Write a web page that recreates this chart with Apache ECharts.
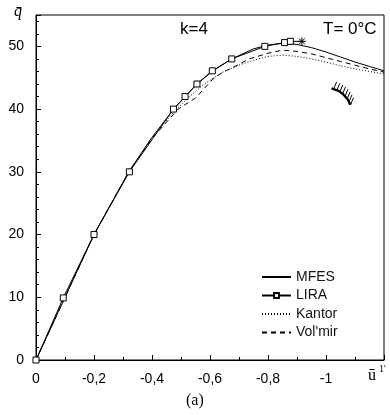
<!DOCTYPE html>
<html><head><meta charset="utf-8">
<script src="https://cdn.jsdelivr.net/npm/echarts@6/dist/echarts.min.js"></script>
<style>html,body{margin:0;padding:0;background:#fff}#c{width:390px;height:415px}</style>
</head><body><div id="c"></div>
<script>
var xTicks = [0, -0.2, -0.4, -0.6, -0.8, -1];
var mfes = [[0,0],[-0.1,10],[-0.2,20],[-0.32,30],[-0.4,35.5],[-0.475,40],[-0.515,42],[-0.555,44],[-0.61,46.1],[-0.675,48],[-0.75,49.6],[-0.8,50.2],[-0.85,50.5],[-0.9,50.3],[-0.95,49.8],[-1.0,49.1],[-1.05,48.3],[-1.1,47.5],[-1.15,46.8],[-1.2,46.1]];
var lira = [[0,0],[-0.094,9.9],[-0.2,20],[-0.322,30],[-0.474,40],[-0.514,42],[-0.555,44],[-0.608,46.1],[-0.675,48],[-0.789,50],[-0.857,50.6],[-0.877,50.8]];
var liraEnd = [-0.917,50.8];
var kantor = [[0,0],[-0.1,10],[-0.2,20],[-0.32,30],[-0.4,35.5],[-0.48,39.8],[-0.53,42],[-0.58,44],[-0.64,45.8],[-0.7,47],[-0.75,47.8],[-0.8,48.4],[-0.85,48.6],[-0.9,48.4],[-0.95,48],[-1.0,47.5],[-1.05,46.9],[-1.1,46.4],[-1.15,46],[-1.2,45.6]];
var volmir = [[0,0],[-0.1,10],[-0.2,20],[-0.32,30],[-0.4,35.3],[-0.49,40],[-0.551,41.8],[-0.61,44.8],[-0.645,45.9],[-0.69,46.9],[-0.735,48],[-0.8,48.9],[-0.85,49.4],[-0.9,49.2],[-0.95,48.8],[-1.0,48.2],[-1.05,47.6],[-1.1,47],[-1.15,46.4],[-1.2,45.9]];

var FONT = "'Liberation Sans Narrow','Liberation Sans',Arial,sans-serif";
var chart = echarts.init(document.getElementById('c'));

// decorative clamped-edge symbol
var cx = 325, cy = 115, r = 27.4, a0 = -1.33, a1 = -0.38;
var hatch = [];
for (var i = 0; i < 8; i++) {
  var a = a0 + 0.08 + i * (a1 - a0 - 0.08) / 7;
  var x1 = cx + r * Math.cos(a), y1 = cy + r * Math.sin(a);
  hatch.push({type:'line', shape:{x1:x1, y1:y1, x2:x1 + 3, y2:y1 - 7}, style:{stroke:'#000', lineWidth:1}});
}

chart.setOption({
  animation: false,
  grid: {left: 36, right: 6, top: 15, bottom: 55, show: true, borderColor: '#000', borderWidth: 1},
  xAxis: {
    type: 'value', min: -1.2, max: 0, interval: 0.2, inverse: true,
    axisLine: {lineStyle: {color: '#000'}},
    axisTick: {inside: true, length: 5, lineStyle: {color: '#000'}},
    minorTick: {show: true, splitNumber: 2, length: 3, lineStyle: {color: '#000'}},
    splitLine: {show: false},
    axisLabel: {margin: 12, color: '#000', fontFamily: FONT, fontSize: 14,
      formatter: function (v) { var q = Math.round(v*10)/10; if (xTicks.indexOf(q) < 0) return ''; return String(q).replace('.', ','); }}
  },
  yAxis: {
    type: 'value', min: 0, max: 55, interval: 10,
    axisLine: {lineStyle: {color: '#000'}},
    axisTick: {inside: true, length: 5, lineStyle: {color: '#000'}},
    minorTick: {show: true, splitNumber: 5, length: 3, lineStyle: {color: '#000'}},
    splitLine: {show: false},
    axisLabel: {margin: 12, color: '#000', fontFamily: FONT, fontSize: 14, showMaxLabel: false,
      formatter: function (v) { return v > 50 ? '' : String(v); }}
  },
  legend: {
    orient: 'vertical', left: 256, top: 265, itemWidth: 29, itemHeight: 6, itemGap: 4.5,
    textStyle: {fontFamily: FONT, fontSize: 14, color: '#111'},
    data: [
      {name: 'MFES', itemStyle: {opacity: 0}},
      {name: 'LIRA'},
      {name: 'Kantor', itemStyle: {opacity: 0}},
      {name: "Vol'mir", itemStyle: {opacity: 0}}
    ]
  },
  series: [
    {name: 'MFES', type: 'line', data: mfes, symbol: 'none', lineStyle: {color: '#000', width: 1}, itemStyle: {color: '#000'}, z: 3},
    {name: 'LIRA', type: 'line', data: lira.concat([{value: liraEnd, symbol: 'path://M0,4L8,4M4,0L4,8M1,1L7,7M7,1L1,7', symbolSize: 8, itemStyle: {color: 'none', borderColor: '#000', borderWidth: 1}}]),
     symbol: 'rect', symbolSize: 6, itemStyle: {color: '#fff', borderColor: '#000', borderWidth: 1}, lineStyle: {color: '#000', width: 1}, z: 4},
    {name: 'Kantor', type: 'line', data: kantor, symbol: 'none', lineStyle: {color: '#000', width: 1, type: [1, 2]}, itemStyle: {color: '#000'}},
    {name: "Vol'mir", type: 'line', data: volmir, symbol: 'none', lineStyle: {color: '#000', width: 1, type: [5, 4]}, itemStyle: {color: '#000'}}
  ],
  graphic: [
    {type: 'text', left: 180, top: 21, style: {text: 'k=4', font: "17px 'Liberation Sans',Arial,sans-serif", fill: '#000'}},
    {type: 'text', left: 323, top: 21, style: {text: 'T= 0°C', font: "17px 'Liberation Sans',Arial,sans-serif", fill: '#000'}},
    {type: 'text', left: 14, top: 4, style: {text: 'q\u0304', font: "italic 16px 'Liberation Serif',serif", fill: '#000'}},
    {type: 'text', left: 368, top: 368, style: {text: 'u\u0304', font: "16px 'Liberation Serif',serif", fill: '#000'}},
    {type: 'text', left: 379, top: 364, style: {text: "1'", font: "10px 'Liberation Serif',serif", fill: '#000'}},
    {type: 'text', left: 186, top: 393, style: {text: '(a)', font: "16px 'Liberation Serif',serif", fill: '#000'}},
    {type: 'arc', shape: {cx: cx, cy: cy, r: r, startAngle: a0, endAngle: a1, clockwise: true}, style: {stroke: '#000', lineWidth: 2.5, fill: null}}
  ].concat(hatch)
});
</script></body></html>
